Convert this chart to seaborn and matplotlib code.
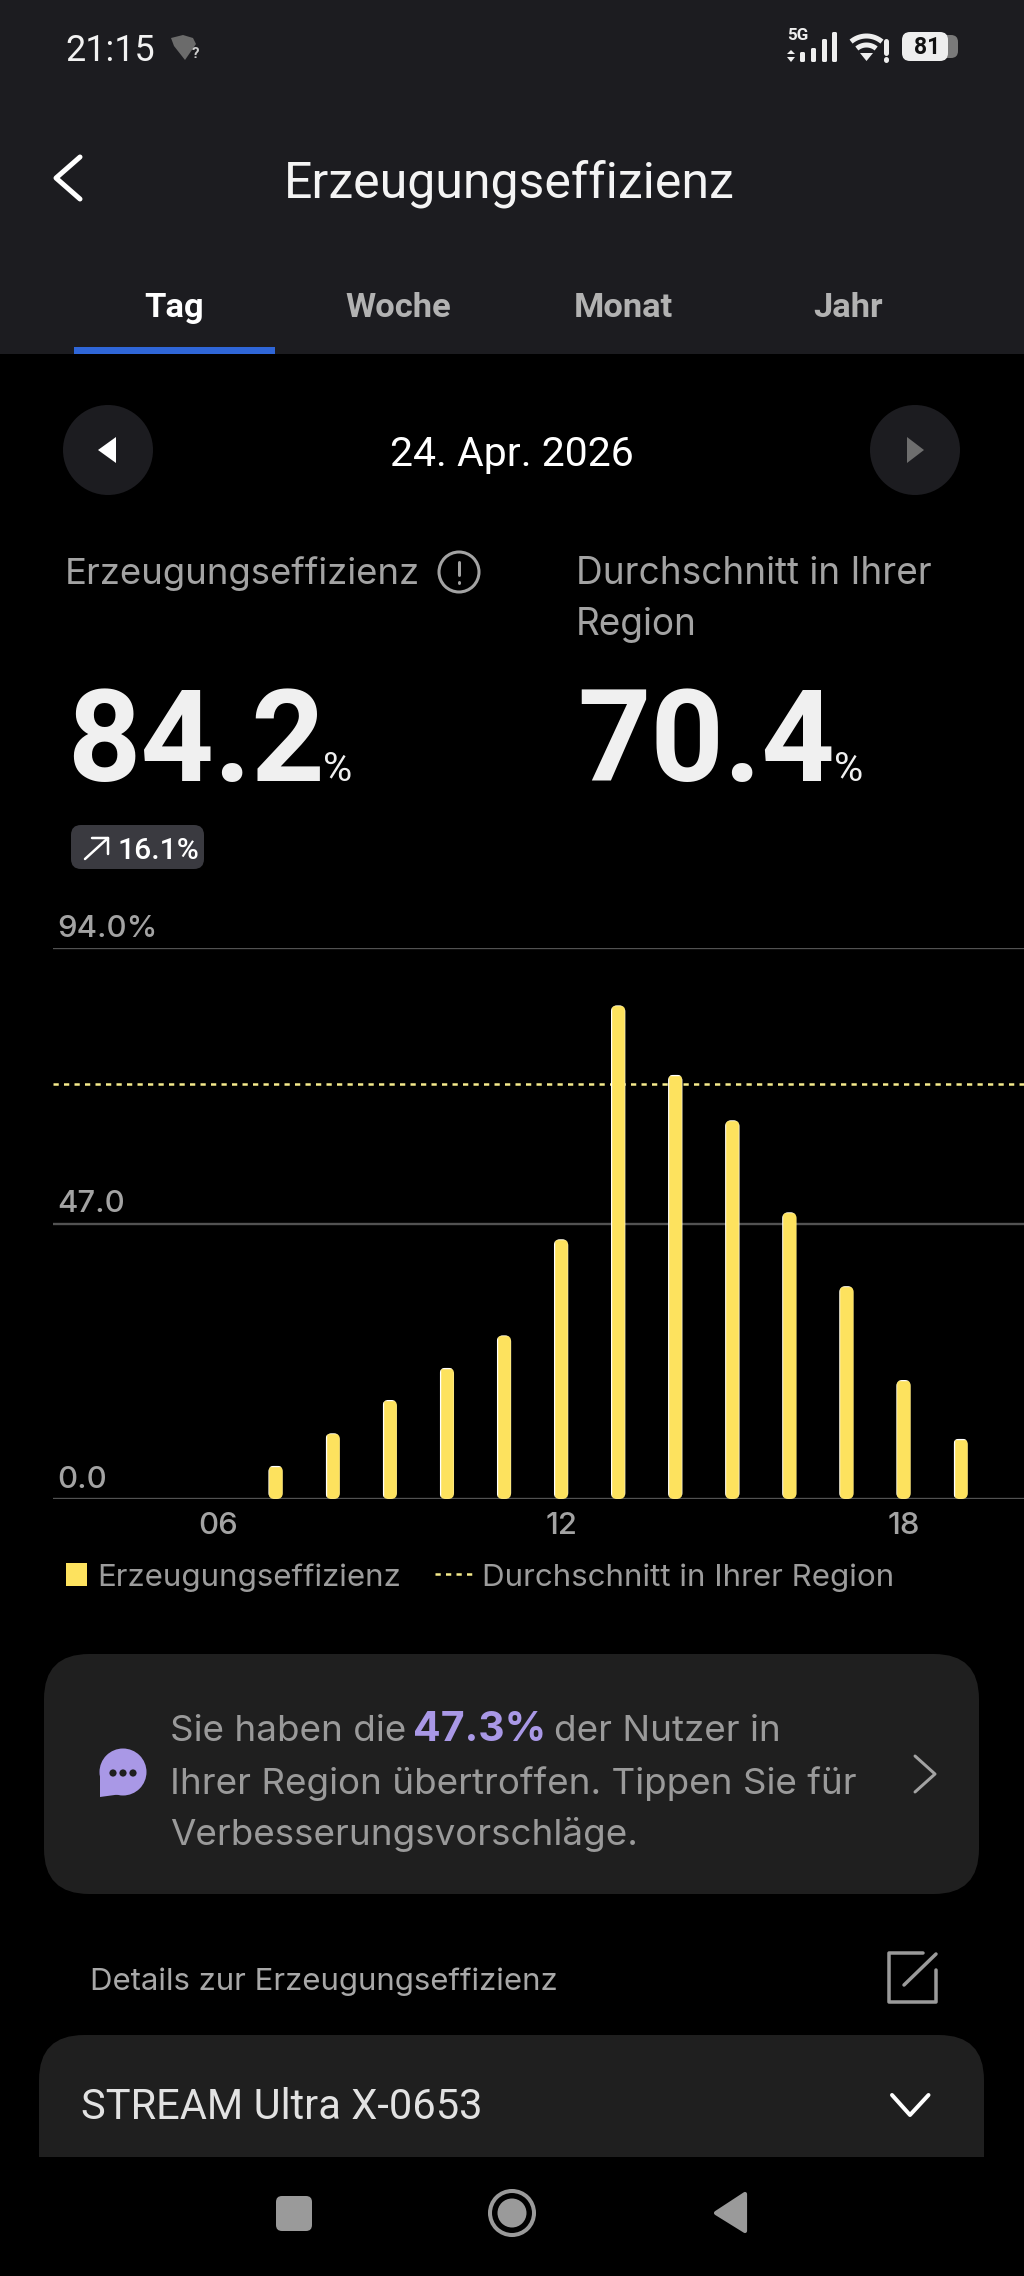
import numpy as np
import pandas as pd
import seaborn as sns
import matplotlib
matplotlib.use("Agg")
import matplotlib.pyplot as plt
from matplotlib.patches import FancyBboxPatch, Circle, Polygon, Rectangle, Patch
from matplotlib.lines import Line2D
from matplotlib.transforms import ScaledTranslation

hours = [7, 8, 9, 10, 11, 12, 13, 14, 15, 16, 17, 18, 19]
efficiency = [5.7, 11.2, 16.9, 22.4, 27.9, 44.3, 84.2, 72.4, 64.6, 48.9, 36.3, 20.3, 10.3]
region_avg = 70.8
y_ticks = [0, 47, 94]
y_tick_labels = ["0.0", "47.0", "94.0%"]
x_ticks = [6, 12, 18]
x_tick_labels = ["06", "12", "18"]
series_name = "Erzeugungseffizienz"
avg_name = "Durchschnitt in Ihrer Region"
tabs = ["Tag", "Woche", "Monat", "Jahr"]

W, H = 1024, 2276
YELLOW = "#FDE25E"
DOTS = "#f6eb8c"
GRID = "#525252"
GREY = "#a3a3a3"
CARD = "#1f1f1f"
HEAD = "#1c1c20"
PURPLE = "#a998e6"
UI_FONT = "Inter"

sns.set_theme(style="dark", rc={"figure.facecolor": "black", "axes.facecolor": "black"})
plt.rcParams["font.family"] = ["Roboto", "DejaVu Sans"]

fig = plt.figure(figsize=(W / 100, H / 100), dpi=100, facecolor="black")
ui = fig.add_axes([0, 0, 1, 1], zorder=0)
ui.set_xlim(0, W)
ui.set_ylim(H, 0)
ui.axis("off")


def txt(x, y, s, px, color="white", weight="normal", font="Roboto", ha="left", z=5):
    return ui.text(x, y, s, fontsize=px * 0.72, color=color, fontweight=weight,
                   family=font, ha=ha, va="baseline", zorder=z)


def rbox(x0, y0, x1, y1, r, color, z=1):
    ui.add_patch(FancyBboxPatch((x0, y0), x1 - x0, y1 - y0,
                                boxstyle=f"round,pad=0,rounding_size={r}",
                                fc=color, ec="none", zorder=z))


def poly(pts, color, z=5, join="round", lw=0):
    ui.add_patch(Polygon(pts, closed=True, fc=color, ec=color, lw=lw, joinstyle=join, zorder=z))


def stroke(xs, ys, color, px, z=5, cap="round"):
    ui.plot(xs, ys, color=color, lw=px * 0.72, solid_capstyle=cap,
            solid_joinstyle="round", zorder=z)


# header
ui.add_patch(Rectangle((0, 0), W, 354, fc=HEAD, ec="none", zorder=1))
ui.add_patch(Rectangle((74, 347), 201, 7, fc="#2f66d8", ec="none", zorder=2))
txt(65, 61, "21:15", 36, "#f2f2f2")
poly([(171, 38), (183, 35), (193, 38), (196, 44), (185, 60), (174, 46)], "#6b6b6b")
txt(192, 58, "?", 15, "#cfcfcf", "bold")
txt(787, 40, "5G", 17, "#eeeeee", "bold")
for bx, top in zip([802.5, 813.5, 824.5, 834.5], [52, 48, 39, 32]):
    rbox(bx - 2.5, top, bx + 2.5, 62, 1.5, "#eeeeee", z=5)
poly([(787, 54), (795, 54), (791, 50)], "#eeeeee")
poly([(787, 57), (795, 57), (791, 62)], "#eeeeee")
for r in (15, 24):
    th = np.radians(np.linspace(-130, -50, 20))
    stroke(866.5 + r * np.cos(th), 60 + r * np.sin(th), "#eeeeee", 5, cap="butt")
poly([(860, 53), (873, 53), (866.5, 61)], "#eeeeee")
stroke([885.5, 885.5], [41, 53], "#eeeeee", 5)
stroke([885.5, 885.5], [59, 59.5], "#eeeeee", 5)
rbox(930, 35, 958, 58, 7, "#7a7a7a", z=3)
rbox(902, 32, 948, 61, 8, "#eeeeee", z=4)
txt(927, 54, "81", 23, "#111111", "bold", ha="center")
stroke([80, 56, 80], [157, 178, 199], "white", 5)
txt(509, 197, "Erzeugungseffizienz", 50, "#f4f4f4", ha="center")
for name, cx, col in zip(tabs, [174, 398, 623, 848],
                         ["white", "#b2b2b2", "#b2b2b2", "#b2b2b2"]):
    txt(cx, 317, name, 34.5, col, "bold", ha="center")

# date selector
ui.add_patch(Circle((108, 450), 45, fc=HEAD, ec="none", zorder=2))
ui.add_patch(Circle((915, 450), 45, fc=HEAD, ec="none", zorder=2))
poly([(98, 450), (116, 437), (116, 463)], "white")
poly([(924, 450), (907, 437), (907, 463)], "#6e6e6e")
txt(512, 466, "24. Apr. 2026", 41, "white", ha="center")

# KPI
txt(65, 584, "Erzeugungseffizienz", 36.5, GREY, font=UI_FONT)
ui.add_patch(Circle((459, 572), 20, fc="none", ec=GREY, lw=2.2, zorder=5))
stroke([459, 459], [562, 575], GREY, 3)
stroke([459, 459], [582, 582.5], GREY, 3)
txt(576, 584, "Durchschnitt in Ihrer", 37, GREY, font=UI_FONT)
txt(576, 635, "Region", 37, GREY, font=UI_FONT)
txt(67, 781, "84.2", 128, "#f0f0f0", "bold")
txt(323, 781, "%", 40, "#f0f0f0")
txt(577, 781, "70.4", 128, "#f0f0f0", "bold")
txt(834, 781, "%", 40, "#f0f0f0")
rbox(71, 825, 204, 869, 10, "#3a3a40", z=2)
stroke([85, 108], [859, 838], "white", 2.5)
stroke([92, 108, 108], [838, 838, 854], "white", 2.5)
txt(118, 859, "16.1%", 30, "white", "medium")

# chart
ax = fig.add_axes([53 / W, 1 - 1499 / H, 971 / W, 551 / H], zorder=3)
ax.set_facecolor("none")
df = pd.DataFrame({"hour": hours, "eff": efficiency})
sns.barplot(data=df, x="hour", y="eff", native_scale=True, width=0.25,
            color=YELLOW, saturation=1, ax=ax, zorder=3, legend=False)
ax.set_xlim(3.10, 20.11)
ax.set_ylim(0, 94)
dot_style = (0, (2.1, 2.1))
ax.axhline(region_avg, color=DOTS, lw=1.8, ls=dot_style, zorder=2)
ax.set_yticks(y_ticks, y_tick_labels)
ax.set_xticks(x_ticks, x_tick_labels)
ax.set_xlabel("")
ax.set_ylabel("")
ax.grid(axis="y", color=GRID, lw=1.7, zorder=1)
ax.grid(axis="x", visible=False)
sns.despine(ax=ax, left=True, bottom=True, top=True, right=True)
ax.tick_params(axis="x", length=0, pad=9, labelsize=31 * 0.72, labelcolor=GREY)
ax.tick_params(axis="y", length=0, pad=-3, labelsize=31 * 0.72, labelcolor=GREY)
lift = ScaledTranslation(0, 11 / 100, fig.dpi_scale_trans)
for lab in ax.get_yticklabels():
    lab.set_ha("left")
    lab.set_va("baseline")
    lab.set_family(UI_FONT)
    lab.set_fontweight("medium")
    lab.set_transform(lab.get_transform() + lift)
for lab in ax.get_xticklabels():
    lab.set_family(UI_FONT)
    lab.set_fontweight("medium")

# rounded bar ends, clipped from the bar's own geometry
px_per_y = 551 / 94
px_per_x = 971 / (20.11 - 3.10)
for b in ax.patches:
    if b.get_height() <= 0:
        continue
    clip = FancyBboxPatch((b.get_x(), b.get_y()), b.get_width(), b.get_height(),
                          boxstyle=f"round,pad=0,rounding_size={6 / px_per_x}",
                          mutation_aspect=px_per_x / px_per_y, transform=ax.transData,
                          fc="none", ec="none")
    b.set_clip_path(clip)

leg_font = 31.3 * 0.72


def add_legend(handle, label, x_px, hl_px, gap_px):
    return ax.legend([handle], [label], loc="upper left",
                     bbox_to_anchor=(x_px / W, 1 - 1563 / H), bbox_transform=fig.transFigure,
                     frameon=False, labelcolor="#9c9c9c",
                     handlelength=hl_px / 31.3, handleheight=0.72,
                     handletextpad=gap_px / 31.3, borderpad=0, borderaxespad=0,
                     prop={"family": UI_FONT, "size": leg_font})


leg1 = add_legend(Patch(fc=YELLOW, ec="none"), series_name, 66, 21, 10)
ax.add_artist(leg1)
leg2 = add_legend(Line2D([0], [0], color=DOTS, lw=1.8, ls=dot_style), avg_name, 435, 37, 10)

# advice card
rbox(44, 1654, 979, 1894, 45, CARD)
ui.add_patch(Circle((123, 1772), 23.5, fc=PURPLE, ec="none", zorder=4))
poly([(100, 1772), (100, 1797), (122, 1794)], PURPLE, z=4)
for dx in (-10, 0, 10):
    ui.add_patch(Circle((123 + dx, 1773), 3.6, fc=CARD, ec="none", zorder=5))
txt(170, 1741, "Sie haben die", 36.8, "#9a9a9a", font=UI_FONT)
txt(413, 1741, "47.3%", 41, PURPLE, "bold", font=UI_FONT)
txt(554, 1741, "der Nutzer in", 36.8, "#9a9a9a", font=UI_FONT)
txt(170, 1794, "Ihrer Region übertroffen. Tippen Sie für", 36.8, "#9a9a9a", font=UI_FONT)
txt(170, 1845, "Verbesserungsvorschläge.", 36.8, "#9a9a9a", font=UI_FONT)
stroke([915, 935, 915], [1756, 1774, 1792], "#a3a3a3", 3)

# details
txt(90, 1990, "Details zur Erzeugungseffizienz", 31.2, "#a8a8a8", font=UI_FONT)
stroke([923, 888.5, 888.5, 936, 936], [1953, 1953, 2002, 2002, 1970], "#9a9a9a", 3.5)
stroke([904, 936], [1985, 1954], "#9a9a9a", 3.5)

# device card, cut by the nav bar
rbox(39, 2035, 984, 2230, 45, CARD)
ui.add_patch(Rectangle((0, 2157), W, H - 2157, fc="black", ec="none", zorder=2))
txt(81, 2119, "STREAM Ultra X-0653", 41.6, "#e2e2e2")
stroke([892, 910, 928.5], [2095, 2115, 2095], "white", 4)

# nav bar
rbox(276, 2196, 312, 2231, 6, "#9a9a9a", z=3)
ui.add_patch(Circle((512, 2213), 22, fc="none", ec="#9a9a9a", lw=2.9, zorder=3))
ui.add_patch(Circle((512, 2213), 14.5, fc="#9a9a9a", ec="none", zorder=3))
poly([(716, 2213), (745, 2194), (745, 2231)], "#9a9a9a", z=3, lw=3)

fig.savefig("out.png", dpi=100, facecolor="black")
